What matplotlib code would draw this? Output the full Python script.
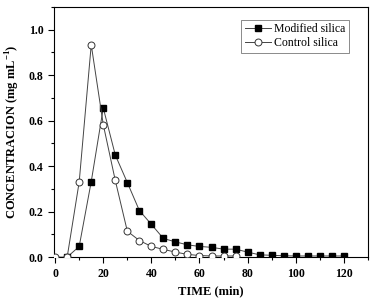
import matplotlib
matplotlib.use("Agg")
import matplotlib.pyplot as plt
from matplotlib.ticker import MultipleLocator, FormatStrFormatter

# time (min)
t_mod = [5, 10, 15, 20, 25, 30, 35, 40, 45, 50, 55, 60, 65, 70, 75, 80, 85,
         90, 95, 100, 105, 110, 115, 120]
c_mod = [0.0, 0.047, 0.332, 0.656, 0.449, 0.328, 0.205, 0.144, 0.082, 0.067,
         0.054, 0.047, 0.043, 0.035, 0.035, 0.022, 0.010, 0.008, 0.006, 0.005,
         0.005, 0.005, 0.005, 0.005]

t_ctrl = [0, 5, 10, 15, 20, 25, 30, 35, 40, 45, 50, 55, 60, 65, 70, 75]
c_ctrl = [0.0, 0.0, 0.331, 0.934, 0.583, 0.337, 0.114, 0.073, 0.047, 0.034,
          0.022, 0.012, 0.007, 0.005, 0.005, 0.005]

plt.rcParams["font.family"] = "Liberation Serif"
plt.rcParams["mathtext.fontset"] = "custom"
plt.rcParams["mathtext.rm"] = "Liberation Serif"
plt.rcParams["mathtext.bf"] = "Liberation Serif:bold"

fig = plt.figure(figsize=(3.72, 3.05), dpi=100)
ax = fig.add_axes([0.145, 0.157, 0.844, 0.82])

ax.plot(t_mod, c_mod, color="#444444", lw=0.7, marker="s", ms=4,
        mfc="black", mec="black", label="Modified silica", zorder=3)
ax.plot(t_ctrl, c_ctrl, color="#444444", lw=0.7, marker="o", ms=5,
        mfc="white", mec="#333333", mew=0.7, label="Control silica", zorder=4)

ax.set_xlim(-0.5, 130)
ax.set_ylim(0, 1.1)
ax.xaxis.set_major_locator(MultipleLocator(20))
ax.xaxis.set_minor_locator(MultipleLocator(10))
ax.yaxis.set_major_locator(MultipleLocator(0.2))
ax.yaxis.set_minor_locator(MultipleLocator(0.1))
ax.yaxis.set_major_formatter(FormatStrFormatter("%.1f"))
ax.tick_params(which="major", direction="out", length=4, width=0.8,
               labelsize=8.5)
ax.tick_params(which="minor", direction="out", length=2.5, width=0.8)
for lab in ax.get_xticklabels() + ax.get_yticklabels():
    lab.set_fontweight("bold")

ax.set_xlabel("TIME (min)", fontsize=9, fontweight="bold", labelpad=4)
ax.set_ylabel("CONCENTRACION (mg mL$^{\\mathbf{-1}}$)", fontsize=9,
              fontweight="bold", labelpad=5)

leg = ax.legend(loc="upper right", bbox_to_anchor=(0.94, 0.95), fontsize=8.5,
                frameon=True, fancybox=False, edgecolor="#555555",
                borderaxespad=0, handlelength=2.2, borderpad=0.3,
                labelspacing=0.2, handletextpad=0.3)
leg.get_frame().set_linewidth(0.6)

fig.savefig("out.png", dpi=100)
